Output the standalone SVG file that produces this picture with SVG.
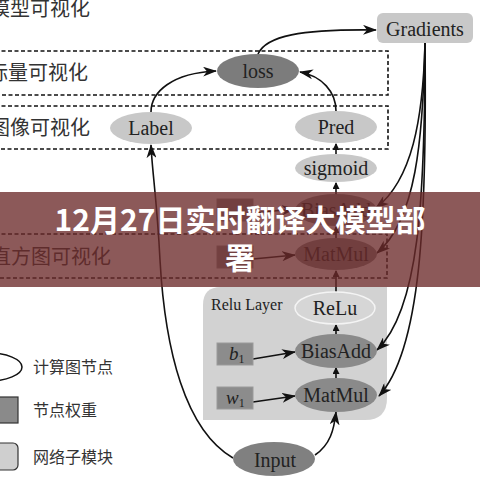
<svg xmlns="http://www.w3.org/2000/svg" width="480" height="480" viewBox="0 0 480 480">
<defs>
<style>
.cn{font-family:"Noto Sans CJK SC","Noto Sans",sans-serif;font-size:20px;fill:#333}
.lg{font-family:"Noto Sans CJK SC","Noto Sans",sans-serif;font-size:16px;fill:#333}
.nt{font-family:"Liberation Serif","DejaVu Serif",serif;font-size:20px;fill:#222;text-anchor:middle}
.light{fill:#c8c8c8}
.dark{fill:#8a8a8a}
.dash{fill:none;stroke:#111;stroke-width:1.6;stroke-dasharray:4 2.5}
.c{fill:none;stroke:#111;stroke-width:1.6}
.sq{fill:#8c8c8c;stroke:#9a9a9a}
</style>
<marker id="a" markerUnits="userSpaceOnUse" markerWidth="14" markerHeight="10" refX="13" refY="5" orient="auto"><path d="M0,0 L14,5 L0,10 L4,5 z" fill="#111"/></marker>
<marker id="s" markerUnits="userSpaceOnUse" markerWidth="7" markerHeight="7" refX="6" refY="3.5" orient="auto"><path d="M0,0 L7,3.5 L0,7 z" fill="#111"/></marker>
</defs>
<rect width="480" height="480" fill="#fff"/>

<g id="rows">
<text class="cn" x="-10" y="16">模型可视化</text>
<rect class="dash" x="-5" y="51" width="393" height="44"/>
<text class="cn" x="-12" y="80">标量可视化</text>
<rect class="dash" x="-5" y="106" width="393" height="43"/>
<text class="cn" x="-10" y="135">图像可视化</text>
<rect class="dash" x="-5" y="234" width="392" height="44"/>
<text class="cn" x="-9" y="264">直方图可视化</text>
</g>

<g id="relu-layer">
<path d="M203,305 Q203,287 221,287 L387,287 L387,398 Q387,420 365,420 L203,420 z" fill="#d2d2d2"/>
<text x="211" y="310" font-family="Liberation Serif,serif" font-size="16" fill="#222">Relu Layer</text>
</g>

<g id="connectors">
<path class="c" d="M258,54 C266,36 300,29 376,30" marker-end="url(#a)"/>
<path class="c" d="M151,112 C151,92 172,73 216,71" marker-end="url(#a)"/>
<path class="c" d="M336,111 C336,92 322,76 300,72" marker-end="url(#a)"/>
<path class="c" d="M233,458 C185,430 165,350 160,260 C157,200 152,170 151,145" marker-end="url(#a)"/>
<path class="c" d="M315,455 C330,445 334,430 336,412" marker-end="url(#a)"/>
<path class="c" d="M425,43 C423,120 412,180 376,208" marker-end="url(#a)"/>
<path class="c" d="M425,43 C423,140 416,220 377,253" marker-end="url(#a)"/>
<path class="c" d="M425,43 C425,200 419,310 377,350" marker-end="url(#a)"/>
<path class="c" d="M425,43 C427,220 421,350 379,396" marker-end="url(#a)"/>
<path class="c" d="M253,359 L295,352" marker-end="url(#a)"/>
<path class="c" d="M253,402 L295,396" marker-end="url(#a)"/>
<path class="c" d="M253,213 L295,209" marker-end="url(#a)"/>
<path class="c" d="M253,259 L295,255" marker-end="url(#a)"/>
<path class="c" d="M336,379 L336,368" stroke-width="1.4" marker-end="url(#s)"/>
<path class="c" d="M336,335 L336,325" stroke-width="1.4" marker-end="url(#s)"/>
<path class="c" d="M336,292 L336,271" stroke-width="1.4" marker-end="url(#s)"/>
<path class="c" d="M336,238 L336,227" stroke-width="1.4" marker-end="url(#s)"/>
<path class="c" d="M336,194 L336,183" stroke-width="1.4" marker-end="url(#s)"/>
<path class="c" d="M336,154 L336,144" stroke-width="1.4" marker-end="url(#s)"/>
</g>

<g id="gradients"><rect class="light" x="377" y="13" width="96" height="30" rx="6"/><text class="nt" x="425" y="36" font-size="22">Gradients</text></g>
<g id="loss"><ellipse cx="258" cy="71" rx="41" ry="17" fill="#7c7c7c"/><text class="nt" x="258" y="78">loss</text></g>
<g id="label"><ellipse class="light" cx="151" cy="128" rx="41" ry="16"/><text class="nt" x="151" y="135" font-size="21">Label</text></g>
<g id="pred"><ellipse class="light" cx="336" cy="127" rx="41" ry="16"/><text class="nt" x="336" y="134" font-size="21">Pred</text></g>
<g id="sigmoid"><ellipse class="light" cx="336" cy="168" rx="41" ry="14"/><text class="nt" x="336" y="175">sigmoid</text></g>
<g id="biasadd2"><rect class="sq" x="217" y="199" width="36" height="22"/><ellipse class="dark" cx="336" cy="210" rx="41" ry="16"/><text class="nt" x="336" y="217">BiasAdd</text></g>
<g id="matmul2"><rect class="sq" x="217" y="246" width="36" height="22"/><ellipse class="dark" cx="336" cy="254" rx="41" ry="16"/><text class="nt" x="336" y="261">MatMul</text></g>
<g id="relu"><ellipse cx="335" cy="308" rx="40" ry="16" fill="#d6d6d6" stroke="#f4f4f4" stroke-width="1.5"/><text class="nt" x="335" y="315">ReLu</text></g>
<g id="b1"><rect class="sq" x="217" y="343" width="36" height="22"/><text x="229" y="360" font-family="Liberation Serif,serif" font-size="19" font-style="italic" fill="#222">b<tspan font-style="normal" font-size="12" dy="3">1</tspan></text></g>
<g id="biasadd1"><ellipse class="dark" cx="336" cy="351" rx="41" ry="17"/><text class="nt" x="336" y="358">BiasAdd</text></g>
<g id="w1"><rect class="sq" x="217" y="387" width="36" height="22"/><text x="226" y="404" font-family="Liberation Serif,serif" font-size="19" font-style="italic" fill="#222">w<tspan font-style="normal" font-size="12" dy="3">1</tspan></text></g>
<g id="matmul1"><ellipse class="dark" cx="336" cy="395" rx="41" ry="17"/><text class="nt" x="336" y="402">MatMul</text></g>
<g id="input"><ellipse cx="274" cy="459" rx="41" ry="17" fill="#808080"/><text class="nt" x="275" y="467" font-size="22">Input</text></g>

<g id="legend">
<ellipse cx="-12" cy="367" rx="34" ry="14" fill="#fff" stroke="#111" stroke-width="1.5"/>
<text class="lg" x="33" y="373">计算图节点</text>
<rect x="-10" y="397" width="28" height="26" fill="#8a8a8a" stroke="#333" stroke-width="1.2"/>
<text class="lg" x="33" y="416">节点权重</text>
<rect x="-10" y="443" width="28" height="27" rx="5" fill="#cfcfcf" stroke="#333" stroke-width="1.2"/>
<text class="lg" x="33" y="463">网络子模块</text>
</g>

<g id="banner">
<rect x="0" y="192" width="480" height="95" fill="#6b2a2a" fill-opacity="0.78"/>
<text x="240" y="231" text-anchor="middle" font-family="Noto Sans CJK SC,sans-serif" font-weight="700" font-size="30" fill="#fff">12月27日实时翻译大模型部</text>
<text x="240" y="269" text-anchor="middle" font-family="Noto Sans CJK SC,sans-serif" font-weight="700" font-size="30" fill="#fff">署</text>
</g>
</svg>
